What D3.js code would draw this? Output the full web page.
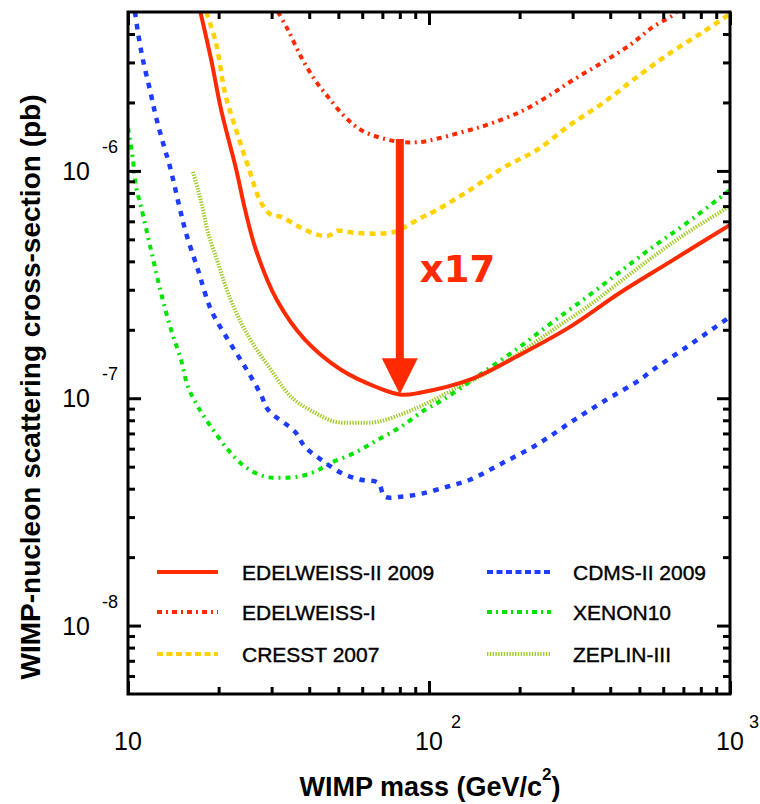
<!DOCTYPE html>
<html>
<head>
<meta charset="utf-8">
<script src="https://cdn.jsdelivr.net/npm/d3@7"></script>
<style>
  html, body { margin: 0; padding: 0; background: #fff; }
  svg { display: block; font-family: "Liberation Sans", Arial, Helvetica, sans-serif; }
</style>
</head>
<body>
<svg id="chart" width="760" height="804"></svg>
<script>
// ---- Axis ranges and tick labels ----
const massDomain = [10, 1000];          // GeV/c^2
const sigmaDomain = [5e-9, 5e-6];       // pb
const xMajorTicks = [10, 100, 1000];
const xTickSup = ["", "2", "3"];
const yMajorTicks = [1e-6, 1e-7, 1e-8];
const yTickSup = ["-6", "-7", "-8"];

// ---- Exclusion limits: WIMP mass (GeV/c^2) and cross-section (pb) ----
const edw2Mass  = [17.4, 18.9, 20.4, 22.9, 24.5, 26.6, 31.2, 38.7, 51.0, 67.7, 80.7, 93.3, 136.8, 200.6, 294, 431, 632, 1000];
const edw2Sigma = [5.0e-6, 3.08e-6, 1.85e-6, 1.01e-6, 6.74e-7, 4.50e-7, 2.71e-7, 1.81e-7, 1.334e-7, 1.112e-7, 1.036e-7, 1.057e-7, 1.206e-7, 1.553e-7, 2.06e-7, 2.91e-7, 3.98e-7, 5.79e-7];

const edw1Mass  = [31.5, 34.0, 37.6, 41.8, 46.2, 52.6, 59.4, 69.3, 80.7, 94.1, 108.8, 136.8, 155.8, 200.6, 246.6, 300.8, 378.6, 465.4, 554.8, 646.6, 690];
const edw1Sigma = [5.0e-6, 4.17e-6, 3.17e-6, 2.51e-6, 2.115e-6, 1.727e-6, 1.514e-6, 1.396e-6, 1.341e-6, 1.341e-6, 1.396e-6, 1.514e-6, 1.593e-6, 1.816e-6, 2.115e-6, 2.51e-6, 3.01e-6, 3.58e-6, 4.30e-6, 4.85e-6, 5.3e-6];

const cresstMass  = [18.2, 19.6, 21.0, 22.7, 25.1, 27.7, 29.9, 32.2, 37.6, 42.8, 46.2, 49.9, 56.8, 67.7, 77.1, 83.2, 94.1, 106.3, 136.8, 176.2, 228.5, 294, 378.6, 491, 632, 813.5, 1000];
const cresstSigma = [5.0e-6, 3.65e-6, 2.20e-6, 1.561e-6, 1.041e-6, 7.23e-7, 6.41e-7, 6.28e-7, 5.62e-7, 5.23e-7, 5.18e-7, 5.45e-7, 5.34e-7, 5.30e-7, 5.40e-7, 5.67e-7, 6.22e-7, 6.74e-7, 8.25e-7, 1.031e-6, 1.237e-6, 1.593e-6, 1.99e-6, 2.59e-6, 3.30e-6, 4.08e-6, 4.9e-6];

const cdmsMass  = [10.55, 10.8, 11.21, 11.83, 12.39, 13.07, 13.79, 14.77, 15.58, 17.08, 18.87, 21.48, 24.47, 27.66, 29.18, 35.88, 38.7, 43.77, 51.0, 59.4, 67.7, 71.4, 80.7, 94.1, 114.8, 136.8, 176.2, 228.5, 294, 378.6, 502, 554.8, 719.6, 1000];
const cdmsSigma = [5.0e-6, 4.04e-6, 3.08e-6, 2.27e-6, 1.727e-6, 1.327e-6, 1.041e-6, 7.09e-7, 5.34e-7, 3.67e-7, 2.45e-7, 1.81e-7, 1.375e-7, 1.036e-7, 8.90e-8, 7.12e-8, 6.12e-8, 5.37e-8, 4.70e-8, 4.38e-8, 4.25e-8, 3.69e-8, 3.69e-8, 3.80e-8, 4.08e-8, 4.38e-8, 5.20e-8, 6.25e-8, 7.80e-8, 9.65e-8, 1.206e-7, 1.334e-7, 1.684e-7, 2.28e-7];

const xenonMass  = [10.0, 10.39, 10.63, 11.05, 11.92, 12.87, 13.9, 15.0, 15.82, 17.08, 18.87, 21.48, 24.47, 28.52, 32.24, 36.71, 41.8, 47.24, 56.8, 67.7, 80.7, 97.0, 111.3, 136.8, 155.8, 200.6, 258.2, 334.9, 431, 554.8, 719.6, 1000];
const xenonSigma = [1.545e-6, 1.118e-6, 8.50e-7, 6.95e-7, 4.50e-7, 2.91e-7, 2.0e-7, 1.476e-7, 1.123e-7, 9.18e-8, 7.49e-8, 5.94e-8, 5.00e-8, 4.52e-8, 4.47e-8, 4.52e-8, 4.75e-8, 5.20e-8, 5.76e-8, 6.57e-8, 7.49e-8, 8.90e-8, 9.85e-8, 1.182e-7, 1.334e-7, 1.684e-7, 2.17e-7, 2.79e-7, 3.60e-7, 4.63e-7, 5.91e-7, 8.25e-7];

const zeplinMass  = [16.44, 17.08, 17.74, 18.45, 19.91, 21.48, 23.74, 26.4, 29.86, 34.8, 41.8, 48.7, 56.8, 67.7, 83.2, 99.2, 120.2, 155.8, 200.6, 258.2, 334.9, 431, 554.8, 719.6, 1000];
const zeplinSigma = [9.9e-7, 8.25e-7, 6.74e-7, 5.34e-7, 3.94e-7, 2.91e-7, 2.15e-7, 1.684e-7, 1.334e-7, 1.015e-7, 8.63e-8, 7.88e-8, 7.80e-8, 7.88e-8, 8.63e-8, 9.55e-8, 1.09e-7, 1.294e-7, 1.585e-7, 2.0e-7, 2.52e-7, 3.25e-7, 4.19e-7, 5.34e-7, 7.0e-7];

// ---- Improvement arrow between the two EDELWEISS minima ----
const arrowMass = 80;
const arrowFrom = 1.38e-6;
const arrowTo = 1.04e-7;
const arrowLabel = "x17";

// ---- Series styling (drawn back to front) ----
const series = [
  { label: "ZEPLIN-III",        mass: zeplinMass, sigma: zeplinSigma, color: "#a2cc2a", width: 4,   dash: "1.4,1.4",     legendDash: "1.4,1.4",   col: 1, row: 2 },
  { label: "XENON10",           mass: xenonMass,  sigma: xenonSigma,  color: "#00e400", width: 4,   dash: "5,5,2,5",     legendDash: "5,4,2,4",   col: 1, row: 1 },
  { label: "CDMS-II 2009",      mass: cdmsMass,   sigma: cdmsSigma,   color: "#1e3cff", width: 4.5, dash: "5.5,6.5",     legendDash: "6,3.5",     col: 1, row: 0 },
  { label: "CRESST 2007",       mass: cresstMass, sigma: cresstSigma, color: "#ffd200", width: 4.5, dash: "6,5",         legendDash: "6,3.5",     col: 0, row: 2 },
  { label: "EDELWEISS-I",       mass: edw1Mass,   sigma: edw1Sigma,   color: "#ff2a00", width: 4,   dash: "5,4.5,2,4.5", legendDash: "5,4,2,4",   col: 0, row: 1 },
  { label: "EDELWEISS-II 2009", mass: edw2Mass,   sigma: edw2Sigma,   color: "#ff2a00", width: 4,   dash: null,          legendDash: null,        col: 0, row: 0 }
];

const W = 760, H = 804;
const margin = { top: 12, right: 30, bottom: 110, left: 128 };
const x = d3.scaleLog().domain(massDomain).range([margin.left, W - margin.right]);
const y = d3.scaleLog().domain(sigmaDomain).range([H - margin.bottom, margin.top]);

const svg = d3.select("#chart");

// Clip region for the curves
svg.append("clipPath").attr("id", "plot-clip")
  .append("rect")
  .attr("x", margin.left).attr("y", margin.top)
  .attr("width", W - margin.left - margin.right)
  .attr("height", H - margin.top - margin.bottom);

// ---- Curves ----
const line = d3.line()
  .x(d => x(d[0]))
  .y(d => y(d[1]))
  .curve(d3.curveCatmullRom.alpha(0.5));

const curves = svg.append("g").attr("clip-path", "url(#plot-clip)");
series.forEach(s => {
  const pts = s.mass.map((m, i) => [m, s.sigma[i]]);
  curves.append("path")
    .attr("d", line(pts))
    .attr("fill", "none")
    .attr("stroke", s.color)
    .attr("stroke-width", s.width)
    .attr("stroke-dasharray", s.dash)
    .attr("stroke-linejoin", "round");
});

// ---- Arrow and factor label ----
const arrowRed = "#ff2a00";
const ax = x(arrowMass), ayTop = y(arrowFrom), ayTip = y(arrowTo);
const headLen = 36, headHalf = 18;
svg.append("line")
  .attr("x1", ax).attr("x2", ax)
  .attr("y1", ayTop).attr("y2", ayTip - headLen + 2)
  .attr("stroke", arrowRed).attr("stroke-width", 8);
svg.append("path")
  .attr("d", `M${ax - headHalf},${ayTip - headLen} L${ax + headHalf},${ayTip - headLen} L${ax},${ayTip} Z`)
  .attr("fill", arrowRed);
svg.append("text")
  .attr("x", ax + 20)
  .attr("y", (ayTop + ayTip) / 2 + 15)
  .attr("font-family", "'DejaVu Sans', Verdana, sans-serif")
  .attr("font-weight", "bold")
  .attr("font-size", 37)
  .attr("fill", arrowRed)
  .text(arrowLabel);

// ---- Frame and inward ticks ----
function logMinor(lo, hi) {
  const out = [];
  for (let e = Math.floor(Math.log10(lo)); e <= Math.ceil(Math.log10(hi)); e++) {
    for (let k = 2; k <= 9; k++) {
      const v = k * Math.pow(10, e);
      if (v > lo * 1.001 && v < hi * 0.999) out.push(v);
    }
  }
  return out;
}
const xMinor = logMinor(massDomain[0], massDomain[1]);
const yMinor = logMinor(sigmaDomain[0], sigmaDomain[1]);

function ticks(axis, translate, values, size) {
  svg.append("g")
    .attr("transform", translate)
    .call(axis.tickValues(values).tickSize(size).tickSizeOuter(0).tickFormat(""))
    .call(g => g.select(".domain").remove())
    .call(g => g.selectAll("line").attr("stroke", "#000").attr("stroke-width", 3));
}
const bottomY = H - margin.bottom, rightX = W - margin.right;
ticks(d3.axisBottom(x), `translate(0,${bottomY})`, xMinor, -7);
ticks(d3.axisBottom(x), `translate(0,${bottomY})`, xMajorTicks, -13);
ticks(d3.axisTop(x), `translate(0,${margin.top})`, xMinor, -7);
ticks(d3.axisTop(x), `translate(0,${margin.top})`, xMajorTicks, -13);
ticks(d3.axisLeft(y), `translate(${margin.left},0)`, yMinor, -7);
ticks(d3.axisLeft(y), `translate(${margin.left},0)`, yMajorTicks, -13);
ticks(d3.axisRight(y), `translate(${rightX},0)`, yMinor, -7);
ticks(d3.axisRight(y), `translate(${rightX},0)`, yMajorTicks, -13);

svg.append("rect")
  .attr("x", margin.left).attr("y", margin.top)
  .attr("width", rightX - margin.left).attr("height", bottomY - margin.top)
  .attr("fill", "none").attr("stroke", "#000").attr("stroke-width", 3);

// ---- Tick labels (powers of ten) ----
xMajorTicks.forEach((v, i) => {
  const px = x(v);
  svg.append("text").attr("x", px).attr("y", bottomY + 56)
    .attr("text-anchor", "middle").attr("font-size", 25).attr("fill", "#000").text("10");
  if (xTickSup[i]) {
    svg.append("text").attr("x", Math.min(px + 22, W - 11)).attr("y", bottomY + 34)
      .attr("font-size", 18).attr("fill", "#000").text(xTickSup[i]);
  }
});
yMajorTicks.forEach((v, i) => {
  const py = y(v);
  svg.append("text").attr("x", margin.left - 38).attr("y", py + 9)
    .attr("text-anchor", "end").attr("font-size", 25).attr("fill", "#000").text("10");
  svg.append("text").attr("x", margin.left - 26).attr("y", py - 18)
    .attr("font-size", 18).attr("fill", "#000").text(yTickSup[i]);
});

// ---- Axis titles ----
const xTitle = svg.append("text")
  .attr("x", 430).attr("y", 796)
  .attr("text-anchor", "middle")
  .attr("font-size", 27).attr("font-weight", "bold").attr("fill", "#000");
xTitle.append("tspan").text("WIMP mass (GeV/c");
xTitle.append("tspan").attr("font-size", 17).attr("dy", -16).text("2");
xTitle.append("tspan").attr("dy", 16).text(")");

svg.append("text")
  .attr("transform", `translate(40,387) rotate(-90)`)
  .attr("text-anchor", "middle")
  .attr("font-size", 28).attr("font-weight", "bold").attr("fill", "#000")
  .text("WIMP-nucleon scattering cross-section (pb)");

// ---- Legend ----
const legendCols = [{ x0: 157, x1: 218, tx: 242 }, { x0: 487, x1: 551, tx: 573 }];
const legendRows = [572, 612, 654];
const legend = svg.append("g");
series.forEach(s => {
  const c = legendCols[s.col], ry = legendRows[s.row];
  legend.append("line")
    .attr("x1", c.x0).attr("x2", c.x1).attr("y1", ry).attr("y2", ry)
    .attr("stroke", s.color).attr("stroke-width", 4)
    .attr("stroke-dasharray", s.legendDash);
  legend.append("text")
    .attr("x", c.tx).attr("y", ry + 8)
    .attr("font-size", 21).attr("fill", "#000")
    .attr("stroke", "#000").attr("stroke-width", 0.4)
    .text(s.label);
});
</script>
</body>
</html>
